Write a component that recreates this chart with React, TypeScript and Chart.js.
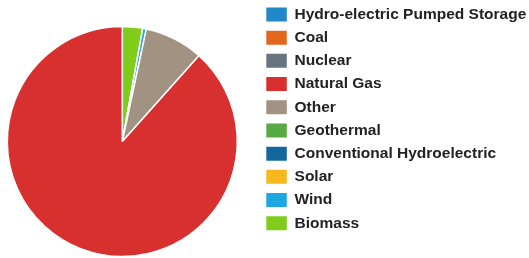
import React, { useEffect, useRef } from "react";
import { Chart, registerables } from "chart.js";

Chart.register(...registerables);

const categories = [
  "Hydro-electric Pumped Storage",
  "Coal",
  "Nuclear",
  "Natural Gas",
  "Other",
  "Geothermal",
  "Conventional Hydroelectric",
  "Solar",
  "Wind",
  "Biomass",
];
const shares = [0, 0, 0, 88.4, 8.25, 0, 0, 0, 0.5, 2.85];
const colors = [
  "#2187c9",
  "#e2661c",
  "#687480",
  "#d8302f",
  "#a29282",
  "#58aa44",
  "#12689a",
  "#f6b81c",
  "#1ca8e0",
  "#80cc1a",
];

export default function App() {
  const ref = useRef<HTMLCanvasElement | null>(null);
  useEffect(() => {
    if (!ref.current) return;
    const labels = [...categories].reverse();
    const data = [...shares].reverse();
    const bg = [...colors].reverse();
    const chart = new Chart(ref.current, {
      type: "pie",
      data: {
        labels,
        datasets: [
          {
            data,
            backgroundColor: bg,
            borderColor: "#ffffff",
            borderWidth: 1.5,
            radius: 115,
          },
        ],
      },
      options: {
        responsive: false,
        animation: false,
        layout: { padding: 0 },
        plugins: {
          tooltip: { enabled: false },
          legend: {
            position: "right",
            align: "start",
            reverse: true,
            maxWidth: 270.4,
            labels: {
              boxWidth: 20.5,
              boxHeight: 14,
              padding: 7.7,
              color: "#222222",
              font: { family: "'Liberation Sans', Arial, sans-serif", size: 15.5, weight: "bold" },
              generateLabels: (c: any) =>
                (Chart as any).overrides.pie.plugins.legend.labels
                  .generateLabels(c)
                  .map((l: any) => ({ ...l, lineWidth: 0 })),
            },
          },
        },
      },
    });
    return () => chart.destroy();
  }, []);
  return (
    <div
      style={{
        position: "absolute",
        left: 0,
        top: 0,
        width: 529,
        height: 258,
        overflow: "hidden",
        background: "#ffffff",
      }}
    >
      <canvas
        ref={ref}
        width={543}
        height={285}
        style={{ position: "absolute", left: -14, top: -1, width: 543, height: 285 }}
      />
    </div>
  );
}
